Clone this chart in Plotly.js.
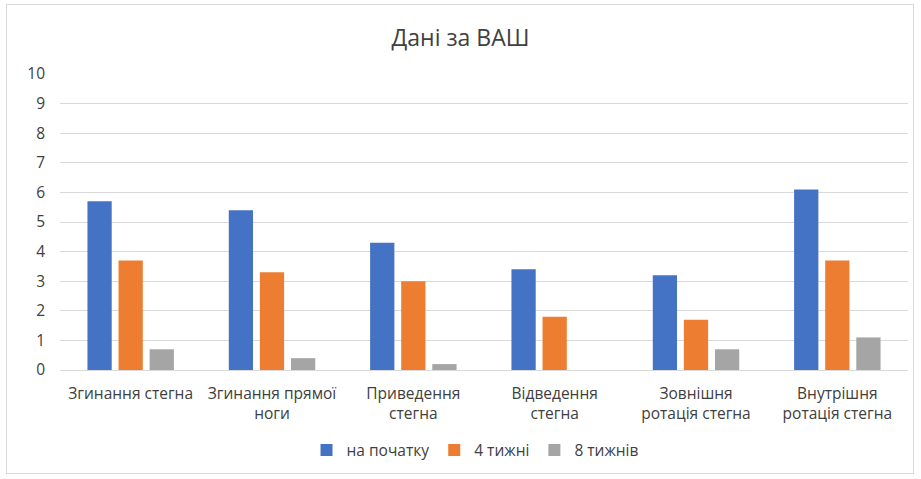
<!DOCTYPE html>
<html>
<head>
<meta charset="utf-8">
<script src="https://cdn.plot.ly/plotly-3.0.1.min.js"></script>
<style>
html,body{margin:0;padding:0;background:#fff;}
#frame{position:absolute;left:6px;top:4px;width:908px;height:470px;border:1px solid #d9d9d9;box-sizing:border-box;}
#chart{position:absolute;left:0;top:0;width:921px;height:479px;}
</style>
</head>
<body>
<div id="frame"></div>
<div id="chart"></div>
<script>
const categories = [
  "Згинання стегна",
  "Згинання прямої<br>ноги",
  "Приведення<br>стегна",
  "Відведення<br>стегна",
  "Зовнішня<br>ротація стегна",
  "Внутрішня<br>ротація стегна"
];
const seriesNames = ["на початку", "4 тижні", "8 тижнів"];
const start = [5.7, 5.4, 4.3, 3.4, 3.2, 6.1];
const week4 = [3.7, 3.3, 3.0, 1.8, 1.7, 3.7];
const week8 = [0.7, 0.4, 0.2, 0, 0.7, 1.1];
const colors = ["#4472c4", "#ed7d31", "#a5a5a5"];
const tickVals = [0,1,2,3,4,5,6,7,8,9,10];

const values = [start, week4, week8];
const traces = values.map((v, i) => ({
  type: "bar",
  name: seriesNames[i],
  x: categories,
  y: v,
  marker: {color: colors[i]},
  hoverinfo: "y"
}));

const font = "Open Sans, Noto Sans, sans-serif";
const layout = {
  width: 921, height: 479,
  paper_bgcolor: "rgba(0,0,0,0)",
  plot_bgcolor: "rgba(0,0,0,0)",
  margin: {l: 60, r: 13, t: 74, b: 107},
  title: {text: "Дані за ВАШ", x: 0.5, xanchor: "center", y: 0.92, yanchor: "middle",
          font: {family: font, size: 23, color: "#404040"}},
  barmode: "group",
  bargap: 0.34,
  bargroupgap: 0.22,
  xaxis: {
    type: "category",
    tickfont: {family: font, size: 15.5, color: "#404040"},
    showgrid: false,
    showline: true, linecolor: "#d9d9d9", linewidth: 1,
    ticks: "", automargin: false,
    ticklabelstandoff: 9
  },
  yaxis: {
    range: [0, 10],
    tickvals: tickVals,
    ticktext: tickVals.map(String),
    tickfont: {family: font, size: 15.5, color: "#404040"},
    gridcolor: "#d9d9d9", gridwidth: 1,
    zeroline: false, showline: false,
    ticks: "", ticklen: 0,
    ticklabelstandoff: 14,
    automargin: false
  },
  legend: {
    orientation: "h", x: 0.49, xanchor: "center", y: -0.272, yanchor: "middle",
    font: {family: font, size: 15.5, color: "#404040"},
    itemwidth: 30
  },
  showlegend: true
};

Plotly.newPlot("chart", traces, layout, {displayModeBar: false, staticPlot: true});
</script>
</body>
</html>
